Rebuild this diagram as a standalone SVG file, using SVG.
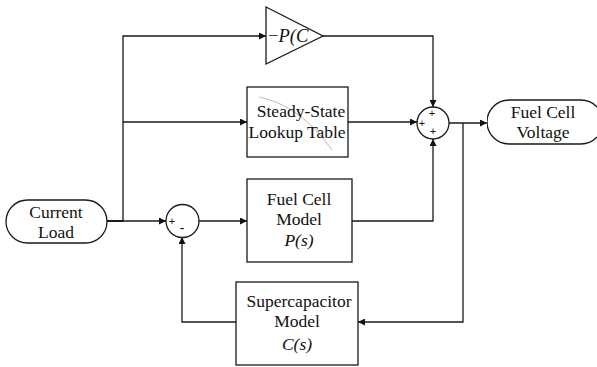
<svg xmlns="http://www.w3.org/2000/svg" width="597" height="367" viewBox="0 0 597 367">
<defs>
<style>
.ln{fill:none;stroke:#1a1a1a;stroke-width:1.3}
.bx{fill:#fff;stroke:#1a1a1a;stroke-width:1.3}
.t{font-family:"Liberation Serif",serif;font-size:17.5px;fill:#111;text-anchor:middle}
.ti{font-family:"Liberation Serif",serif;font-size:17.5px;fill:#111;font-style:italic;text-anchor:middle}
.s{font-family:"Liberation Sans",sans-serif;font-size:11px;fill:#111;text-anchor:middle}
</style>
<marker id="ah" viewBox="0 0 10 10" refX="10" refY="5" markerWidth="9" markerHeight="7" markerUnits="userSpaceOnUse" orient="auto">
<path d="M0,0 L10,5 L0,10 Z" fill="#111"/>
</marker>
<clipPath id="cSS"><rect x="247" y="87" width="101" height="70"/></clipPath>
<clipPath id="cFC"><rect x="247" y="179" width="105" height="83"/></clipPath>
<clipPath id="cSC"><rect x="236" y="282" width="122" height="83"/></clipPath>
<clipPath id="cV"><rect x="487" y="99" width="110" height="46"/></clipPath>
<clipPath id="cG"><polygon points="266,7 323,36 266,64"/></clipPath>
</defs>
<g id="connectors">
<path class="ln" d="M107,221 H123 V36 H266" marker-end="url(#ah)"/>
<path class="ln" d="M123,122 H247" marker-end="url(#ah)"/>
<path class="ln" d="M123,221 H166" marker-end="url(#ah)"/>
<path class="ln" d="M199,221 H247" marker-end="url(#ah)"/>
<path class="ln" d="M323,36 H433 V107" marker-end="url(#ah)"/>
<path class="ln" d="M348,122 H417" marker-end="url(#ah)"/>
<path class="ln" d="M352,221 H433 V139" marker-end="url(#ah)"/>
<path class="ln" d="M449,123 H487" marker-end="url(#ah)"/>
<path class="ln" d="M463,123 V322 H358" marker-end="url(#ah)"/>
<path class="ln" d="M236,322 H182 V237" marker-end="url(#ah)"/>
<path class="ln" d="M107,221 H123" style="stroke-width:2"/>
</g>
<g id="current-load">
<rect class="bx" x="6" y="200" width="101" height="43" rx="21.5"/>
<text class="t" x="56" y="218">Current</text>
<text class="t" x="56" y="238">Load</text>
</g>
<g id="gain">
<polygon class="bx" points="266,7 323,36 266,64"/>
<text class="ti" x="268" y="42" style="text-anchor:start;font-size:18.5px" clip-path="url(#cG)"><tspan font-style="normal">−</tspan>P(C</text>
</g>
<g id="lookup-table">
<rect class="bx" x="247" y="87" width="101" height="70"/>
<path d="M259,97 Q300,105 332,150" fill="none" stroke="#bbb" stroke-width="1"/>
<g clip-path="url(#cSS)">
<text class="t" x="301" y="117">Steady-State</text>
<text class="t" x="297" y="138">Lookup Table</text>
</g>
</g>
<g id="sum-right">
<circle class="bx" cx="433" cy="123" r="16"/>
<text class="s" x="432" y="117">+</text>
<text class="s" x="422" y="127">+</text>
<text class="s" x="433" y="135">+</text>
</g>
<g id="fuel-cell-voltage">
<rect class="bx" x="487" y="100" width="116" height="44" rx="22" clip-path="url(#cV)"/>
<text class="t" x="543" y="118">Fuel Cell</text>
<text class="t" x="543" y="138">Voltage</text>
</g>
<g id="sum-left">
<circle class="bx" cx="182.5" cy="221" r="16.5"/>
<text class="s" x="172" y="225">+</text>
<text class="s" x="182" y="233" style="font-size:14px">-</text>
</g>
<g id="fuel-cell-model">
<rect class="bx" x="247" y="179" width="105" height="83"/>
<g clip-path="url(#cFC)">
<text class="t" x="299" y="205">Fuel Cell</text>
<text class="t" x="299" y="225">Model</text>
<text class="ti" x="299" y="246">P(s)</text>
</g>
</g>
<g id="supercapacitor-model">
<rect class="bx" x="236" y="282" width="122" height="83"/>
<g clip-path="url(#cSC)">
<text class="t" x="299" y="307">Supercapacitor</text>
<text class="t" x="297" y="327">Model</text>
<text class="ti" x="297" y="350">C(s)</text>
</g>
</g>
</svg>
